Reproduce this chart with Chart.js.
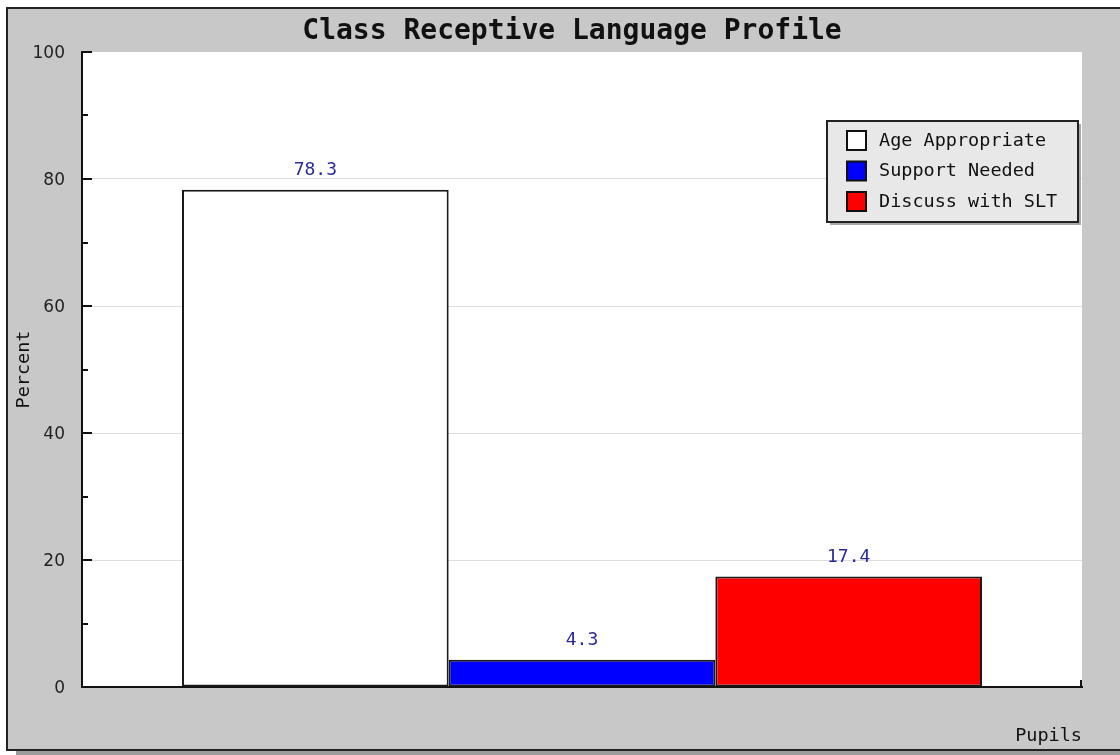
<!DOCTYPE html>
<html>
<head>
<meta charset="utf-8">
<script src="https://cdn.jsdelivr.net/npm/chart.js@4.4.1/dist/chart.umd.min.js"></script>
<style>
  html, body { margin: 0; padding: 0; background: #fff; }
  canvas { display: block; }
</style>
</head>
<body>
<canvas id="chart" width="1120" height="755"></canvas>
<script>
const categories = [''];
const seriesNames = ['Age Appropriate', 'Support Needed', 'Discuss with SLT'];
const seriesValues = [78.3, 4.3, 17.4];
const seriesColors = ['#ffffff', '#0000ff', '#ff0000'];
const yMin = 0;
const yMax = 100;
const yStep = 20;

const MONO = '"DejaVu Sans Mono", "Liberation Mono", monospace';

// gray frame + white plot area
const framePlugin = {
  id: 'frame',
  beforeDraw(chart) {
    const ctx = chart.ctx;
    const a = chart.chartArea;
    ctx.save();
    ctx.fillStyle = '#fff';
    ctx.fillRect(0, 0, chart.width, chart.height);
    ctx.fillStyle = '#9c9c9c';
    ctx.fillRect(16, 751, chart.width, 4);
    ctx.fillStyle = '#c8c8c8';
    ctx.fillRect(7, 8, chart.width, 742);
    ctx.strokeStyle = '#222';
    ctx.lineWidth = 2;
    ctx.strokeRect(7, 8, chart.width + 20, 742);
    ctx.fillStyle = '#fff';
    ctx.fillRect(a.left, a.top, a.right - a.left, a.bottom - a.top);
    ctx.restore();
  }
};

// inward tick marks on the value axis
const ticksPlugin = {
  id: 'inTicks',
  afterDraw(chart) {
    const ctx = chart.ctx;
    const y = chart.scales.y;
    const a = chart.chartArea;
    ctx.save();
    ctx.strokeStyle = '#111';
    ctx.lineWidth = 2;
    for (let v = yMin; v <= yMax; v += yStep / 2) {
      const py = Math.round(y.getPixelForValue(v));
      const len = v % yStep === 0 ? 10 : 6;
      ctx.beginPath();
      ctx.moveTo(a.left, py);
      ctx.lineTo(a.left + len, py);
      ctx.stroke();
    }
    ctx.beginPath();
    ctx.moveTo(a.right - 1, a.bottom);
    ctx.lineTo(a.right - 1, a.bottom - 7);
    ctx.stroke();
    ctx.restore();
  }
};

// value labels above bars
const valueLabels = {
  id: 'valueLabels',
  afterDatasetsDraw(chart) {
    const ctx = chart.ctx;
    ctx.save();
    ctx.font = '18px ' + MONO;
    ctx.fillStyle = '#2a2a9c';
    ctx.textAlign = 'center';
    ctx.textBaseline = 'middle';
    chart.data.datasets.forEach((ds, i) => {
      const meta = chart.getDatasetMeta(i);
      meta.data.forEach((bar, j) => {
        ctx.fillText(ds.data[j].toFixed(1), bar.x, bar.y - 19);
      });
    });
    ctx.restore();
  }
};

// boxed legend with shadow inside the plot area
const boxLegend = {
  id: 'boxLegend',
  afterDraw(chart) {
    const ctx = chart.ctx;
    const a = chart.chartArea;
    const w = 251, h = 101;
    const x = a.right - 4 - w;
    const y = a.top + 69;
    ctx.save();
    ctx.fillStyle = '#a8a8a8';
    ctx.fillRect(x + 3, y + 3, w, h);
    ctx.fillStyle = '#e8e8e8';
    ctx.fillRect(x, y, w, h);
    ctx.strokeStyle = '#222';
    ctx.lineWidth = 2;
    ctx.strokeRect(x, y, w, h);
    ctx.font = '18.5px ' + MONO;
    ctx.textBaseline = 'middle';
    chart.data.datasets.forEach((ds, i) => {
      const sy = y + 10 + i * 30.5;
      ctx.fillStyle = ds.backgroundColor;
      ctx.fillRect(x + 20, sy, 19, 19);
      ctx.strokeStyle = '#111';
      ctx.strokeRect(x + 20, sy, 19, 19);
      ctx.fillStyle = '#111';
      ctx.fillText(ds.label, x + 52, sy + 10);
    });
    ctx.restore();
  }
};

new Chart(document.getElementById('chart'), {
  type: 'bar',
  data: {
    labels: categories,
    datasets: seriesNames.map((name, i) => ({
      label: name,
      data: [seriesValues[i]],
      backgroundColor: seriesColors[i],
      borderColor: '#1a1a1a',
      borderWidth: 2,
      borderSkipped: false,
      categoryPercentage: 0.8,
      barPercentage: 1.0
    }))
  },
  options: {
    responsive: false,
    animation: false,
    layout: { padding: { left: 24, right: 0, top: 0, bottom: 8 } },
    scales: {
      x: {
        grid: { display: false },
        border: { display: true, color: '#111', width: 2 },
        ticks: { display: false },
        title: {
          display: true,
          text: 'Pupils',
          align: 'end',
          color: '#111',
          font: { family: MONO, size: 18.5 },
          padding: { top: 0, bottom: 0 }
        },
        afterFit(scale) { scale.height = 60; }
      },
      y: {
        min: yMin,
        max: yMax,
        ticks: {
          stepSize: yStep,
          padding: 17,
          labelOffset: 2,
          color: '#222',
          font: { family: '"DejaVu Sans", sans-serif', size: 17 }
        },
        grid: {
          drawTicks: false,
          color: ctx => (ctx.tick.value === yMin || ctx.tick.value === yMax) ? 'rgba(0,0,0,0)' : '#dddddd'
        },
        border: { display: true, color: '#111', width: 2 },
        title: {
          display: true,
          text: 'Percent',
          color: '#111',
          font: { family: MONO, size: 18.5 },
          padding: { top: -11, bottom: 0 }
        },
        afterFit(scale) { scale.width = 58; }
      },
      // empty right margin of the gray frame
      yRight: {
        position: 'right',
        ticks: { display: false },
        grid: { display: false },
        border: { display: false },
        afterFit(scale) { scale.width = 38; }
      }
    },
    plugins: {
      legend: { display: false },
      tooltip: { enabled: false },
      title: {
        display: true,
        text: 'Class Receptive Language Profile',
        color: '#111',
        font: { family: MONO, size: 28, weight: 'bold' },
        padding: { top: 15, bottom: 3.4 }
      }
    }
  },
  plugins: [framePlugin, ticksPlugin, valueLabels, boxLegend]
});
</script>
</body>
</html>
